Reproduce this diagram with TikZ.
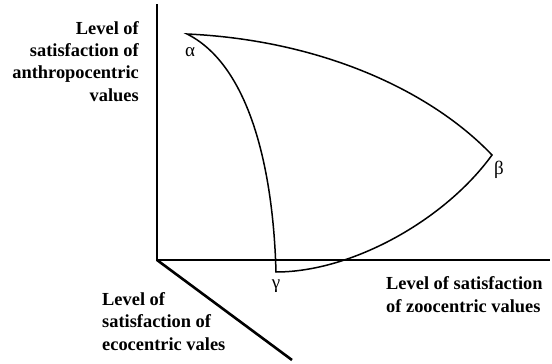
\documentclass[tikz,border=0pt]{standalone}
\usepackage{fontspec}
\setmainfont{Liberation Serif}
\begin{document}
\begin{tikzpicture}[x=1pt,y=-1pt,
  axis/.style={line width=2.6pt},
  curve/.style={line width=1.5pt, line join=miter},
  lab/.style={font=\bfseries\fontsize{18.4}{22.3}\selectfont, inner sep=0pt},
  greek/.style={font=\fontsize{19}{22}\selectfont, inner sep=0pt}]
\useasboundingbox (0,0) rectangle (552,364);
\coordinate (O) at (157,260);
\coordinate (ytop) at (157,4);
\coordinate (xend) at (550,260);
\coordinate (zend) at (292,360);
\coordinate (alpha) at (187,34);
\coordinate (beta) at (492,155);
\coordinate (gamma) at (276,272);
\draw[axis] (ytop) -- (O) -- (xend);
\draw[axis] (O) -- (zend);
\draw[curve] (alpha) .. controls (247,64) and (273,162) .. (gamma)
  .. controls (352,272) and (445,220) .. (beta)
  .. controls (430,90) and (320,40) .. cycle;
\node[lab, align=right, anchor=base east] (ylab) at (139,101)
  {Level of\\satisfaction of\\anthropocentric\\values};
\node[lab, align=left, anchor=base west] (xlab) at (386,312)
  {Level of satisfaction\\of zoocentric values};
\node[lab, align=left, anchor=base west] (zlab) at (102,350)
  {Level of\\satisfaction of\\ecocentric vales};
\node[greek] (a) at (190,52) {α};
\node[greek] (b) at (499,170) {β};
\node[greek] (g) at (276,286) {γ};
\end{tikzpicture}
\end{document}
